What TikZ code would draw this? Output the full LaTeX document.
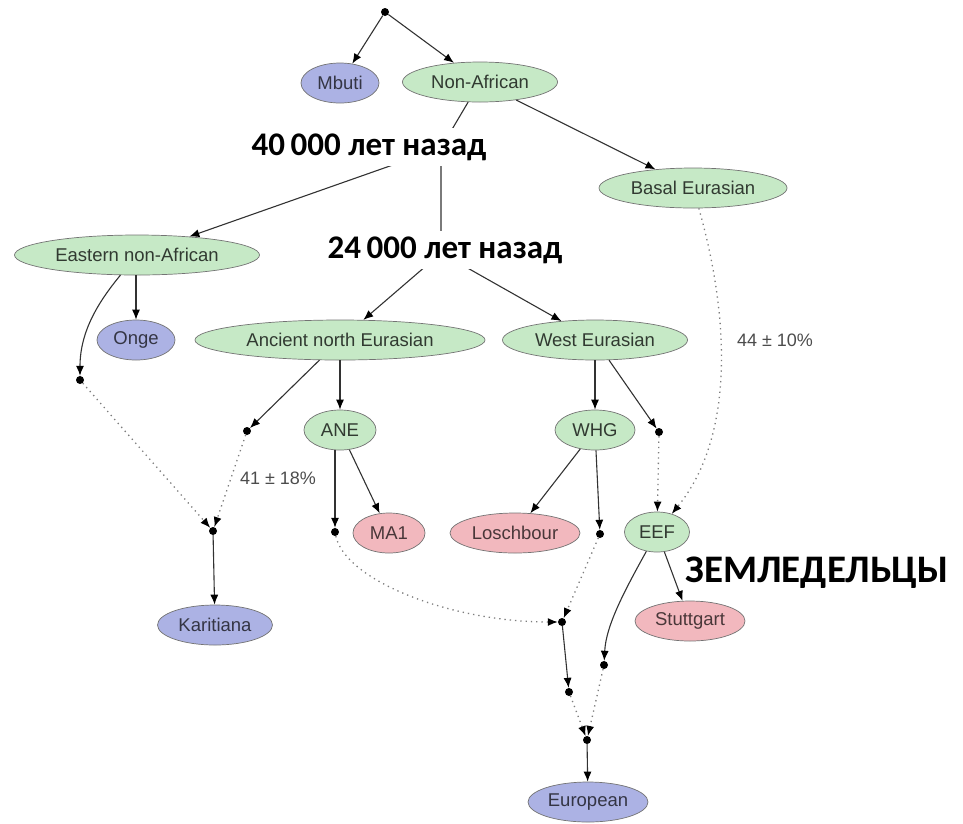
\documentclass[tikz,border=0pt]{standalone}
\usepackage{fontspec}
\setmainfont{Liberation Sans}
\newfontfamily\headfont{Carlito}
\usetikzlibrary{arrows.meta,shapes.geometric}
\definecolor{AncGreen}{RGB}{198,233,198}
\definecolor{ModBlue}{RGB}{172,178,228}
\definecolor{OldPink}{RGB}{242,184,190}
\definecolor{EdgeGray}{RGB}{50,50,50}
\definecolor{MixGray}{RGB}{125,125,125}

\begin{document}
\begin{tikzpicture}[x=1pt, y=-1pt,
    pop/.style={ellipse, draw=black!55, line width=0.7pt, inner sep=0pt, minimum height=40pt, font=\fontsize{18.5}{20}\selectfont},
    ancestor/.style={pop, fill=AncGreen, text=AncGreen!25!black},
    modern/.style={pop, fill=ModBlue, text=ModBlue!30!black},
    ancient/.style={pop, fill=OldPink, text=OldPink!30!black},
    junc/.style={circle, fill=black, inner sep=0pt, minimum size=8pt},
    epoch/.style={fill=white, inner xsep=3pt, inner ysep=6pt, font=\headfont\bfseries\fontsize{33}{35}\selectfont},
    share/.style={font=\fontsize{18}{20}\selectfont, text=black!70},
    link/.style={EdgeGray, line width=1.1pt},
    edge/.style={link, -{Latex[length=10pt,width=8pt,color=black]}},
    mix/.style={-{Latex[length=10pt,width=8pt,color=black]}, MixGray, line width=1.3pt, dash pattern=on 1.3pt off 4pt}]
    \useasboundingbox (0,0) rectangle (963,823);

    % Root and first split
    \node[junc] (root) at (385,12) {};
    \node[modern, minimum width=78pt] (mbuti) at (340,83) {Mbuti};
    \node[ancestor, minimum width=155pt] (nonafr) at (480,82) {Non-African};
    \node[ancestor, minimum width=188pt] (basal) at (693,188) {Basal Eurasian};
    \coordinate (s40) at (441,148);
    \coordinate (s24) at (441,253);

    % Second level
    \node[ancestor, minimum width=245pt] (eastnafr) at (137,255) {Eastern non-African};
    \node[modern, minimum width=78pt] (onge) at (136,340) {Onge};
    \node[ancestor, minimum width=290pt] (ancnorth) at (340,340) {Ancient north Eurasian};
    \node[ancestor, minimum width=185pt] (westeur) at (595,340) {West Eurasian};

    % Third level
    \node[ancestor, minimum width=72pt] (ane) at (340,430) {ANE};
    \node[ancestor, minimum width=80pt] (whg) at (595,430) {WHG};
    \node[ancient, minimum width=72pt] (ma1) at (389,533) {MA1};
    \node[ancient, minimum width=130pt] (losch) at (515,533) {Loschbour};
    \node[ancestor, minimum width=65pt] (eef) at (657,532) {EEF};
    \node[ancient, minimum width=110pt] (stutt) at (690,621) {Stuttgart};
    \node[modern, minimum width=115pt] (karit) at (215,625) {Karitiana};
    \node[modern, minimum width=120pt] (europ) at (588,802) {European};

    % Admixture points
    \node[junc] (p1) at (80,380) {};
    \node[junc] (p2) at (247,431) {};
    \node[junc] (p3) at (213,531) {};
    \node[junc] (p4) at (335,532) {};
    \node[junc] (p5) at (600,534) {};
    \node[junc] (p6) at (562,622) {};
    \node[junc] (p7) at (569,692) {};
    \node[junc] (p8) at (604,665) {};
    \node[junc] (p9) at (587,740) {};
    \node[junc] (p10) at (659,432) {};

    % Tree edges
    \draw[edge] (root) -- (mbuti);
    \draw[edge] (root) -- (nonafr);
    \draw[edge] (nonafr) -- (basal);
    \draw[link] (nonafr) -- (s40) -- (s24);
    \draw[edge] (s40) -- (eastnafr);
    \draw[edge] (s24) -- (ancnorth);
    \draw[edge] (s24) -- (westeur);
    \draw[edge] (eastnafr.south -| onge) -- (onge);
    \draw[edge] (eastnafr) .. controls (100,300) and (80,330) .. (p1);
    \draw[edge] (ancnorth) -- (ane);
    \draw[edge] (ancnorth) -- (p2);
    \draw[edge] (ane.south -| p4) -- (p4);
    \draw[edge] (ane) -- (ma1);
    \draw[edge] (westeur) -- (whg);
    \draw[edge] (westeur) -- (p10);
    \draw[edge] (whg) -- (losch);
    \draw[edge] (whg) -- (p5);
    \draw[edge] (eef) -- (stutt);
    \draw[edge] (eef) .. controls (625,590) and (606,625) .. (p8);
    \draw[edge] (p3) -- (karit);
    \draw[edge] (p6) -- (p7);
    \draw[edge] (p9) -- (europ);

    % Admixture edges
    \draw[mix] (p1) -- (p3);
    \draw[mix] (p2) -- (p3);
    \draw[mix] (p4) .. controls (345,580) and (450,622) .. (p6);
    \draw[mix] (p5) -- (p6);
    \draw[mix] (p7) -- (p9);
    \draw[mix] (p8) -- (p9);
    \draw[mix] (p10) -- (eef);
    \draw[mix] (basal) .. controls (725,300) and (740,430) .. (eef);

    % Labels
    \node[share] (l41) at (278,478) {41 ± 18\%};
    \node[share] (l44) at (775,340) {44 ± 10\%};
    \node[epoch] (t40) at (369,147) {40\,000 лет назад};
    \node[epoch] (t24) at (445,250) {24\,000 лет назад};
    \node[epoch, fill=none, font=\headfont\bfseries\fontsize{39}{41}\selectfont] (farm) at (817,573) {ЗЕМЛЕДЕЛЬЦЫ};
\end{tikzpicture}
\end{document}
